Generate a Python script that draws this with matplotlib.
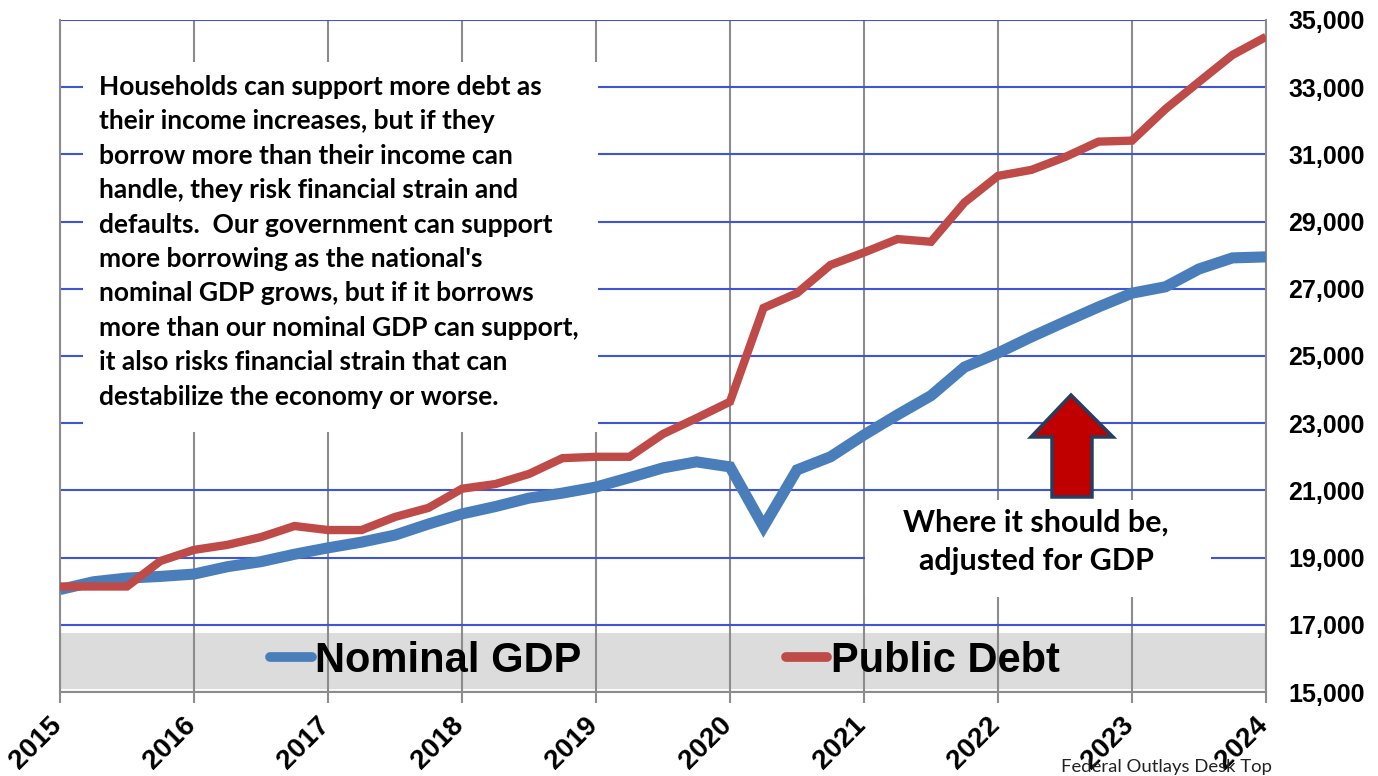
import matplotlib
matplotlib.use("Agg")
import matplotlib.pyplot as plt
from matplotlib.patches import Rectangle, Polygon
from matplotlib.lines import Line2D
from matplotlib.ticker import FuncFormatter
from matplotlib.transforms import ScaledTranslation
import numpy as np

# ---- data (quarterly, 2015Q1 .. 2024Q1) ----
quarters = [2015 + 0.25 * k for k in range(37)]
nominal_gdp = [18050, 18280, 18390, 18440, 18510, 18730, 18880, 19100, 19290, 19460,
               19670, 20000, 20300, 20520, 20770, 20920, 21100, 21380, 21670, 21850,
               21700, 19920, 21610, 22000, 22650, 23250, 23820, 24670, 25090, 25570,
               26020, 26460, 26870, 27060, 27590, 27920, 27950]
public_debt = [18140, 18140, 18140, 18900, 19230, 19380, 19610, 19940, 19820, 19820,
               20210, 20480, 21050, 21190, 21490, 21960, 22000, 22000, 22680, 23150,
               23640, 26430, 26870, 27710, 28080, 28480, 28400, 29570, 30360, 30540,
               30920, 31380, 31410, 32350, 33160, 33960, 34500]
years = list(range(2015, 2025))
y_ticks = list(range(15000, 35001, 2000))
series_names = ["Nominal GDP", "Public Debt"]
note_lines = [
    "Households can support more debt as",
    "their income increases, but if they",
    "borrow more than their income can",
    "handle, they risk financial strain and",
    "defaults.  Our government can support",
    "more borrowing as the national's",
    "nominal GDP grows, but if it borrows",
    "more than our nominal GDP can support,",
    "it also risks financial strain that can",
    "destabilize the economy or worse.",
]
arrow_label = "Where it should be,\nadjusted for GDP"
footer = "Federal Outlays Desk Top"

BLUE = "#4a7ebb"
RED = "#be4b48"
GRID_BLUE = "#3d55d6"
GRID_GRAY = "#8c8c8c"

W, H = 1378, 776
fig = plt.figure(figsize=(W / 100, H / 100), dpi=100)
L, R, T, B = 60, 1266, 20, 692
ax = fig.add_axes([L / W, 1 - B / H, (R - L) / W, (B - T) / H])

def ax_frac(px, py):
    return ((px - L) / (R - L), (B - py) / (B - T))

ax.set_xlim(2015, 2024)
ax.set_ylim(15000, 35000)

# grid
ax.set_axisbelow("line")
ax.set_xticks(years)
ax.set_yticks(y_ticks)
ax.xaxis.grid(True, color=GRID_GRAY, lw=1.5, zorder=1.5)
ax.yaxis.grid(True, color=GRID_BLUE, lw=1.5, zorder=1.5)

# legend band
ax.add_patch(Rectangle((0, 0.005), 1, (B - 633) / (B - T) - 0.005, transform=ax.transAxes,
                       facecolor="#dcdcdc", edgecolor="none", zorder=1))

# lines
ax.plot(quarters, nominal_gdp, color=BLUE, lw=8, solid_joinstyle="miter", zorder=3,
        solid_capstyle="butt")
ax.plot(quarters, public_debt, color=RED, lw=6, solid_joinstyle="miter", zorder=3,
        solid_capstyle="butt")

# spines and ticks
for s in ["left", "right", "bottom"]:
    ax.spines[s].set_color(GRID_GRAY)
    ax.spines[s].set_linewidth(1.5)
ax.spines["top"].set_visible(False)
ax.yaxis.tick_right()
ax.tick_params(axis="y", length=0, pad=16)
ax.tick_params(axis="x", length=8, color=GRID_GRAY, width=1.5, pad=6.5)
ax.yaxis.set_major_formatter(FuncFormatter(lambda v, p: f"{int(v):,}"))
for lab in ax.get_yticklabels():
    lab.set_fontfamily("Liberation Sans")
    lab.set_fontweight("bold")
    lab.set_fontsize(18)
ax.set_xticklabels([str(y) for y in years], rotation=45, ha="right", va="top",
                   fontfamily="Liberation Sans", fontweight="bold", fontsize=20)
shift = ScaledTranslation(7 / 100, 0, fig.dpi_scale_trans)
for lab in ax.get_xticklabels():
    lab.set_transform(lab.get_transform() + shift)

# left note box
x0, y0 = ax_frac(83, 432)
x1, y1 = ax_frac(598, 62)
ax.add_patch(Rectangle((x0, y0), x1 - x0, y1 - y0, transform=ax.transAxes,
                       facecolor="white", edgecolor="none", zorder=2.5))
tx, ty = ax_frac(99, 75)
ax.text(tx, ty, "\n".join(note_lines), transform=ax.transAxes, ha="left", va="top",
        fontfamily="Lato", fontweight="bold", fontsize=19, linespacing=1.52, zorder=4)

# right label box
x0, y0 = ax_frac(865, 597)
x1, y1 = ax_frac(1211, 500)
ax.add_patch(Rectangle((x0, y0), x1 - x0, y1 - y0, transform=ax.transAxes,
                       facecolor="white", edgecolor="none", zorder=2.5))
tx, ty = ax_frac(1036, 542)
ax.text(tx, ty, arrow_label, transform=ax.transAxes, ha="center", va="center",
        fontfamily="Lato", fontweight="bold", fontsize=22, linespacing=1.47, zorder=4)

# arrow
pts = [(1071, 395), (1113, 437), (1092, 437), (1092, 497), (1052, 497), (1052, 437), (1031, 437)]
ax.add_patch(Polygon([ax_frac(*p) for p in pts], closed=True, transform=ax.transAxes,
                     facecolor="#c00000", edgecolor="#243f60", lw=2.5, zorder=5))

# legend
handles = [Line2D([], [], color=BLUE, lw=7, solid_capstyle="round"),
           Line2D([], [], color=RED, lw=7, solid_capstyle="round")]
lx, ly = ax_frac(665, 661)
leg = ax.legend(handles, series_names, loc="center", bbox_to_anchor=(lx, ly), ncol=2,
                frameon=False, handlelength=1.0, handletextpad=0.08, columnspacing=4.9,
                prop={"family": "Liberation Sans", "weight": "bold", "size": 30})
leg.set_zorder(6)

fig.text(1272 / W, 1 - 767 / H, footer, ha="right", va="center", fontsize=13.3,
         fontfamily="Lato", color="#222222")

fig.savefig("out.png", dpi=100)
